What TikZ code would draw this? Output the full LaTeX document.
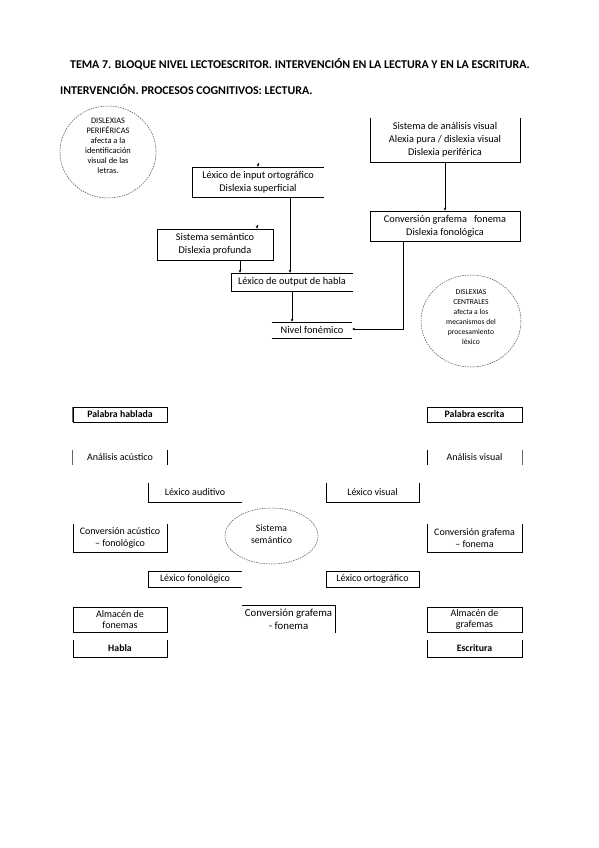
\documentclass[tikz,border=0pt]{standalone}
\usepackage{fontspec}
\setmainfont{Carlito}
\usetikzlibrary{arrows.meta,shapes.geometric}
\begin{document}
\begin{tikzpicture}[x=1pt,y=-1pt,
  lbl/.style={inner sep=0pt,align=center,font=\fontsize{10.3}{13}\selectfont},
  lblb/.style={inner sep=0pt,align=center,font=\fontsize{9.8}{11}\selectfont\bfseries},
  lbls/.style={inner sep=0pt,align=center,font=\fontsize{10}{11.5}\selectfont},
  edge/.style={line width=0.6pt,black},
  gedge/.style={line width=0.9pt,black!60},
  circ/.style={draw=black!70,dashed,dash pattern=on 1.5pt off 1pt,line width=0.5pt,ellipse,inner sep=0pt},
  arr/.style={line width=0.6pt,-{Stealth[length=3pt,width=2.6pt]}},
  ttl/.style={inner sep=0pt,font=\fontsize{11.9}{13}\selectfont\bfseries}]
\useasboundingbox (0,0) rectangle (599,848);
\fill[white] (0,0) rectangle (599,848);

% titles
\node[ttl] (t1) at (300,64) {TEMA 7. BLOQUE NIVEL LECTOESCRITOR. INTERVENCIÓN EN LA LECTURA Y EN LA ESCRITURA.};
\node[ttl,anchor=west] (t2) at (60,90) {INTERVENCIÓN. PROCESOS COGNITIVOS: LECTURA.};

% ---------- upper diagram ----------
\node[circ,minimum width=96pt,minimum height=92pt] (perif) at (108,152) {};
\node[inner sep=0pt,align=center,font=\fontsize{8.4}{9.9}\selectfont] (perift) at (108,146) {DISLEXIAS\\PERIFÉRICAS\\afecta a la\\identificación\\visual de las\\letras.};

\node[circ,minimum width=100pt,minimum height=92pt] (centr) at (471,321) {};
\node[inner sep=0pt,align=center,font=\fontsize{7.6}{10}\selectfont] (centrt) at (471,317) {DISLEXIAS\\CENTRALES\\afecta a los\\mecanismos del\\procesamiento\\léxico};

\node[lbl,minimum width=150pt,minimum height=44pt] (sav) at (445,140) {Sistema de análisis visual\\Alexia pura / dislexia visual\\Dislexia periférica};
\draw[edge] (sav.north west) -- (sav.south west) -- (sav.south east) -- (sav.north east);

\node[lbl,draw,line width=0.6pt,minimum width=150pt,minimum height=30pt] (conv) at (445,226) {Conversión grafema \ \ fonema\\Dislexia fonológica};

\node[lbl,minimum width=132pt,minimum height=30pt] (lexin) at (258,182) {Léxico de input ortográfico\\Dislexia superficial};
\draw[edge] (lexin.north east) -- (lexin.north west) -- (lexin.south west) -- (lexin.south east);

\node[lbl,draw,line width=0.6pt,minimum width=116pt,minimum height=31pt] (sem) at (215,244.5) {Sistema semántico\\Dislexia profunda};

\node[lbl,minimum width=122pt,minimum height=18pt] (lexout) at (292,282) {Léxico de output de habla};
\draw[edge] (lexout.north east) -- (lexout.north west) -- (lexout.south west) -- (lexout.south east);

\node[lbl,minimum width=80pt,minimum height=16pt] (nivel) at (312,330) {Nivel fonémico};
\draw[edge] (nivel.north west) -- (nivel.north east);
\draw[edge] (nivel.south west) -- (nivel.south east);

% connectors
\coordinate (s1) at (258,163);
\coordinate (s2) at (257,225);
\draw[arr] (s1) -- (lexin.north west -| s1);
\draw[arr] (s2) -- (sem.north west -| s2);
\draw[arr] (sav.south) -- (conv.north);
\draw[arr] (lexin.south west -| 290,0) -- (lexout.north west -| 290,0);
\draw[arr] (sem.south west -| 240,0) -- (lexout.north west -| 240,0);
\draw[arr] (lexout.south west -| 292,0) -- (nivel.north west -| 292,0);
\coordinate (bend) at (403,329);
\draw[arr] (conv.south west -| bend) -- (bend) -- (nivel.east |- bend);

% ---------- lower diagram ----------
\node[lblb,draw,line width=0.6pt,minimum width=94pt,minimum height=15pt] (ph) at (120,414.5) {Palabra hablada};
\draw[gedge] (ph.north west) -- (ph.south west);
\node[lblb,draw,line width=0.6pt,minimum width=95pt,minimum height=15pt] (pe) at (474.5,414.5) {Palabra escrita};

\node[lbls,minimum width=94pt,minimum height=15pt] (aa) at (120,457.5) {Análisis acústico};
\draw[gedge] (aa.north west) -- (aa.south west);
\draw[edge] (aa.north east) -- (aa.south east);
\node[lbls,minimum width=95pt,minimum height=15pt] (av) at (474.5,457.5) {Análisis visual};
\draw[edge] (av.north west) -- (av.south west);
\draw[gedge] (av.north east) -- (av.south east);

\node[lbls,minimum width=94pt,minimum height=19pt] (la) at (195,492.5) {Léxico auditivo};
\draw[edge] (la.north west) -- (la.south west) -- (la.south east);
\node[lbls,minimum width=93pt,minimum height=19pt] (lv) at (372.5,492.5) {Léxico visual};
\draw[edge] (lv.north west) -- (lv.south west) -- (lv.south east) -- (lv.north east);

\node[circ,minimum width=93pt,minimum height=56pt] (ss) at (271.5,536) {};
\node[inner sep=0pt,align=center,font=\fontsize{9.8}{12}\selectfont] (sst) at (271.5,534) {Sistema\\semántico};

\node[lbls,minimum width=94pt,minimum height=28pt] (caf) at (120,538) {Conversión acústico\\– fonológico};
\draw[edge] (caf.north west) -- (caf.south west) -- (caf.south east) -- (caf.north east);
\node[lbls,minimum width=95pt,minimum height=28pt] (cgf) at (474.5,538) {Conversión grafema\\– fonema};
\draw[edge] (cgf.north west) -- (cgf.south west) -- (cgf.south east) -- (cgf.north east);

\node[lbls,minimum width=94pt,minimum height=16pt] (lf) at (195,579) {Léxico fonológico};
\draw[edge] (lf.north east) -- (lf.north west) -- (lf.south west) -- (lf.south east);
\node[lbls,draw,line width=0.6pt,minimum width=93pt,minimum height=16pt] (lo) at (372.5,579) {Léxico ortográfico};

\node[lbls,draw,line width=0.6pt,minimum width=94pt,minimum height=25pt] (af) at (120,619.5) {Almacén de\\fonemas};
\node[inner sep=0pt,align=center,font=\fontsize{10.8}{13}\selectfont,minimum width=93pt,minimum height=28pt] (cgm) at (288.5,619) {Conversión grafema\\- fonema};
\draw[edge] (cgm.north west) -- (cgm.north east) -- (cgm.south east);
\node[lbls,draw,line width=0.6pt,minimum width=95pt,minimum height=25pt] (ag) at (474.5,619.5) {Almacén de\\grafemas};

\node[lblb,minimum width=94pt,minimum height=17pt] (hb) at (120,648.5) {Habla};
\draw[edge] (hb.north west) -- (hb.south west) -- (hb.south east) -- (hb.north east);
\node[lblb,minimum width=95pt,minimum height=17pt] (es) at (474.5,648.5) {Escritura};
\draw[edge] (es.north west) -- (es.south west) -- (es.south east) -- (es.north east);
\end{tikzpicture}
\end{document}
